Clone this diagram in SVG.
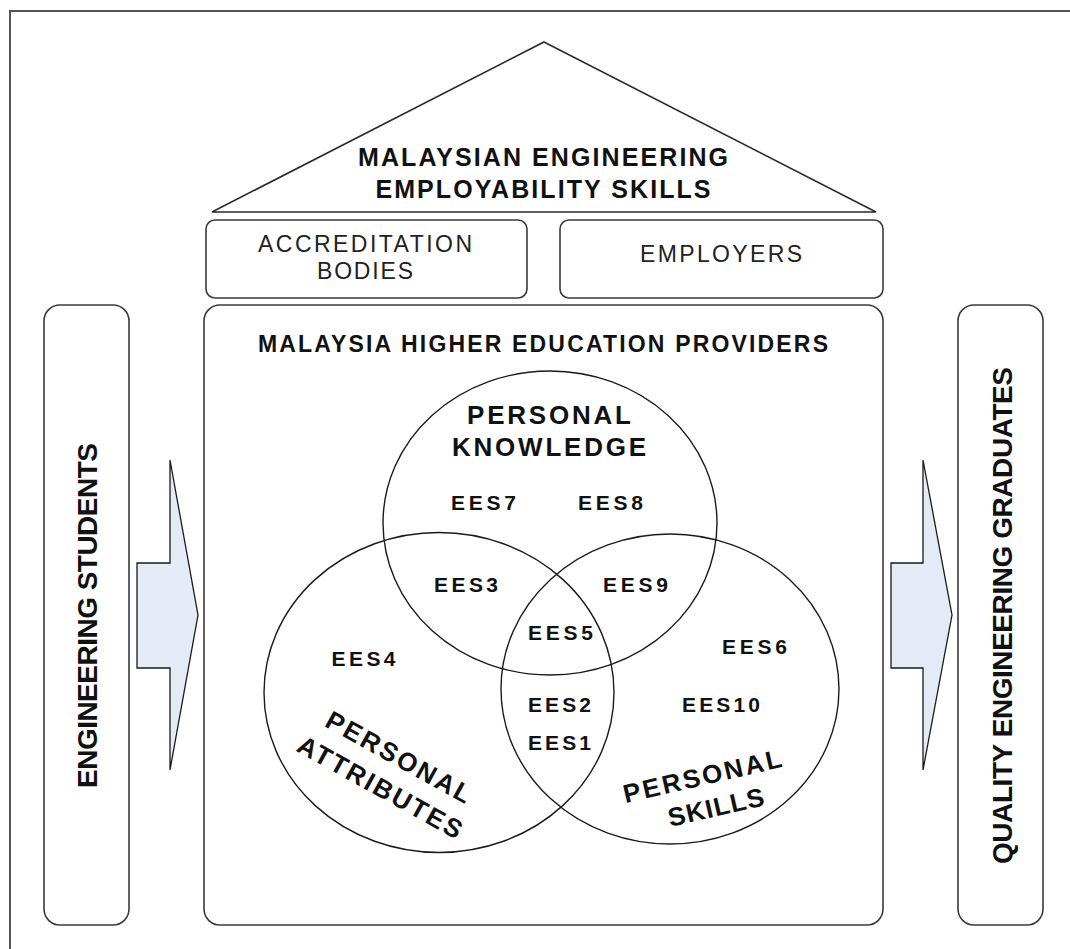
<svg xmlns="http://www.w3.org/2000/svg" width="1070" height="949" viewBox="0 0 1070 949">
<style>
.box{fill:#fff;stroke:#3a3a3a;stroke-width:1.6}
.venn{fill:none;stroke:#1a1a1a;stroke-width:1.4}
.arrow{fill:#e5ebf6;stroke:#1a1a1a;stroke-width:1.3;stroke-linejoin:miter}
.b{font-family:"Liberation Sans",Arial,sans-serif;font-weight:bold;fill:#111;text-anchor:middle}
.r{font-family:"Liberation Sans",Arial,sans-serif;fill:#222;text-anchor:middle}
.ees{font-size:21px}
.lab{font-size:26px}
</style>
<rect width="1070" height="949" fill="#fff"/>
<path d="M10,949 V11 H1070" fill="none" stroke="#555" stroke-width="2"/>

<g id="roof">
<polygon points="544,42 876,212 212,212" fill="#fff" stroke="#2a2a2a" stroke-width="1.6"/>
<text class="b" x="543" y="166" font-size="25" textLength="370">MALAYSIAN ENGINEERING</text>
<text class="b" x="543" y="198" font-size="25" textLength="335">EMPLOYABILITY SKILLS</text>
</g>

<g id="accreditation">
<rect class="box" x="206" y="220" width="321" height="78" rx="9"/>
<text class="r" x="365" y="252" font-size="23" textLength="214">ACCREDITATION</text>
<text class="r" x="365" y="279" font-size="23" textLength="96">BODIES</text>
</g>

<g id="employers">
<rect class="box" x="560" y="220" width="323" height="78" rx="9"/>
<text class="r" x="721" y="262" font-size="23" textLength="162">EMPLOYERS</text>
</g>

<g id="students">
<rect class="box" x="44" y="305" width="85" height="620" rx="16"/>
<text class="b" transform="translate(97,615.5) rotate(-90)" font-size="28" textLength="345">ENGINEERING STUDENTS</text>
</g>

<g id="graduates">
<rect class="box" x="958" y="305" width="85" height="620" rx="16"/>
<text class="b" transform="translate(1012,615.5) rotate(-90)" font-size="28" textLength="497">QUALITY ENGINEERING GRADUATES</text>
</g>

<g id="providers">
<rect class="box" x="204" y="305" width="679" height="620" rx="16"/>
<text class="b" x="543" y="352" font-size="23" textLength="570">MALAYSIA HIGHER EDUCATION PROVIDERS</text>
</g>

<g id="venn">
<ellipse id="knowledge" class="venn" cx="550" cy="523" rx="167" ry="152"/>
<ellipse id="attributes" class="venn" cx="439" cy="692.5" rx="175" ry="160"/>
<ellipse id="skills" class="venn" cx="670" cy="689" rx="169" ry="155"/>
<text class="b lab" x="549" y="424" textLength="164">PERSONAL</text>
<text class="b lab" x="549" y="456" textLength="194">KNOWLEDGE</text>
<text class="b lab" transform="translate(394.4,765) rotate(29)" textLength="162">PERSONAL</text>
<text class="b lab" transform="translate(375.6,795) rotate(29)" textLength="184">ATTRIBUTES</text>
<text class="b lab" transform="translate(704.4,785) rotate(-13)" textLength="162">PERSONAL</text>
<text class="b lab" transform="translate(718,816) rotate(-13)" textLength="98">SKILLS</text>
<text class="b ees" x="483.5" y="510" textLength="65">EES7</text>
<text class="b ees" x="610.5" y="510" textLength="65">EES8</text>
<text class="b ees" x="466" y="592" textLength="64">EES3</text>
<text class="b ees" x="635.5" y="592" textLength="65">EES9</text>
<text class="b ees" x="560.5" y="640" textLength="65">EES5</text>
<text class="b ees" x="363.5" y="666" textLength="64">EES4</text>
<text class="b ees" x="754.5" y="654" textLength="65">EES6</text>
<text class="b ees" x="559.5" y="712" textLength="63">EES2</text>
<text class="b ees" x="559.5" y="750" textLength="63">EES1</text>
<text class="b ees" x="721" y="712" textLength="78">EES10</text>
</g>

<g id="connectors">
<polygon class="arrow" points="137,563 170,563 170,460 198,615 170,770 170,668 137,668"/>
<polygon class="arrow" points="891,563 923,563 923,460 952,615 923,770 923,668 891,668"/>
</g>
</svg>
